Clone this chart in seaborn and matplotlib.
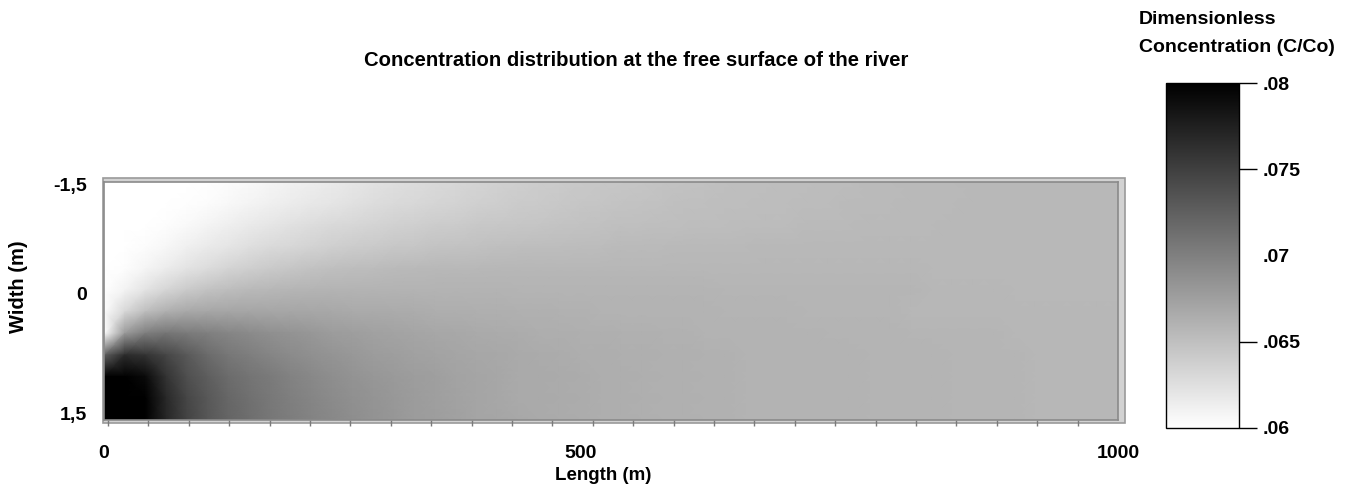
import numpy as np
import pandas as pd
import matplotlib
matplotlib.use("Agg")
import matplotlib.pyplot as plt
import seaborn as sns
from matplotlib.colors import LinearSegmentedColormap
from matplotlib.patches import Rectangle

plt.rcParams['font.family'] = ['Liberation Sans', 'DejaVu Sans']
plt.rcParams['font.weight'] = 'bold'

# ---------------- data (C/Co) ----------------
length_m = [10, 30, 50, 70, 90, 110, 130, 150, 170, 190,
            210, 230, 250, 270, 290, 310, 330, 350, 370, 390,
            410, 430, 450, 470, 490, 510, 530, 550, 570, 590,
            610, 630, 650, 670, 690, 710, 730, 750, 770, 790,
            810, 830, 850, 870, 890, 910, 930, 950, 970, 990]
width_m = [-1.375, -1.125, -0.875, -0.625, -0.375, -0.125,
           0.125, 0.375, 0.625, 0.875, 1.125, 1.375]

c_w_m1375 = [.0600, .0600, .0600, .0600, .0600, .0601, .0603, .0605, .0608, .0611,
             .0614, .0617, .0620, .0623, .0625, .0628, .0630, .0632, .0634, .0636,
             .0638, .0640, .0641, .0643, .0644, .0645, .0646, .0647, .0648, .0649,
             .0650, .0651, .0651, .0652, .0652, .0653, .0653, .0654, .0654, .0655,
             .0655, .0655, .0656, .0656, .0656, .0656, .0656, .0656, .0656, .0656]
c_w_m1125 = [.0600, .0600, .0600, .0600, .0601, .0603, .0606, .0609, .0612, .0615,
             .0618, .0621, .0624, .0627, .0629, .0631, .0633, .0635, .0637, .0639,
             .0641, .0642, .0643, .0645, .0646, .0647, .0648, .0649, .0650, .0650,
             .0651, .0651, .0652, .0652, .0653, .0653, .0654, .0654, .0654, .0655,
             .0655, .0655, .0656, .0656, .0656, .0656, .0656, .0656, .0656, .0656]
c_w_m0875 = [.0600, .0600, .0600, .0602, .0605, .0609, .0613, .0617, .0620, .0624,
             .0627, .0630, .0632, .0634, .0636, .0638, .0640, .0641, .0643, .0644,
             .0645, .0646, .0647, .0648, .0649, .0650, .0650, .0651, .0651, .0652,
             .0652, .0653, .0653, .0653, .0654, .0654, .0654, .0655, .0655, .0655,
             .0655, .0656, .0656, .0656, .0656, .0656, .0656, .0656, .0656, .0656]
c_w_m0625 = [.0600, .0600, .0603, .0607, .0612, .0617, .0621, .0625, .0629, .0632,
             .0635, .0638, .0640, .0642, .0644, .0645, .0647, .0648, .0649, .0650,
             .0651, .0652, .0652, .0653, .0653, .0654, .0654, .0654, .0655, .0655,
             .0655, .0655, .0656, .0656, .0656, .0656, .0656, .0656, .0656, .0656,
             .0656, .0656, .0656, .0656, .0656, .0656, .0656, .0656, .0656, .0656]
c_w_m0375 = [.0600, .0602, .0608, .0615, .0622, .0628, .0634, .0638, .0642, .0645,
             .0648, .0650, .0652, .0653, .0654, .0655, .0656, .0656, .0656, .0657,
             .0657, .0657, .0657, .0657, .0657, .0657, .0657, .0657, .0657, .0657,
             .0657, .0657, .0657, .0657, .0657, .0657, .0657, .0657, .0657, .0657,
             .0656, .0656, .0656, .0656, .0656, .0656, .0656, .0656, .0656, .0656]
c_w_m0125 = [.0600, .0610, .0622, .0633, .0642, .0648, .0652, .0655, .0657, .0658,
             .0659, .0660, .0660, .0660, .0660, .0660, .0660, .0660, .0660, .0660,
             .0659, .0659, .0659, .0659, .0659, .0659, .0659, .0659, .0659, .0659,
             .0658, .0658, .0658, .0658, .0658, .0658, .0658, .0658, .0658, .0658,
             .0657, .0657, .0657, .0657, .0656, .0656, .0656, .0656, .0656, .0656]
c_w_p0125 = [.0603, .0632, .0652, .0663, .0668, .0670, .0671, .0671, .0670, .0670,
             .0669, .0668, .0667, .0667, .0666, .0665, .0664, .0664, .0663, .0663,
             .0662, .0662, .0661, .0661, .0660, .0660, .0660, .0660, .0660, .0660,
             .0659, .0659, .0659, .0659, .0658, .0658, .0658, .0658, .0658, .0657,
             .0657, .0657, .0657, .0657, .0657, .0657, .0657, .0657, .0657, .0657]
c_w_p0375 = [.0602, .0680, .0702, .0708, .0704, .0700, .0696, .0692, .0688, .0685,
             .0682, .0678, .0676, .0674, .0672, .0671, .0669, .0668, .0667, .0666,
             .0665, .0664, .0664, .0663, .0663, .0662, .0662, .0661, .0661, .0660,
             .0660, .0660, .0660, .0660, .0660, .0659, .0659, .0659, .0659, .0658,
             .0658, .0658, .0658, .0658, .0657, .0657, .0657, .0657, .0657, .0657]
c_w_p0625 = [.0725, .0765, .0760, .0745, .0730, .0716, .0707, .0701, .0696, .0691,
             .0687, .0684, .0681, .0678, .0676, .0674, .0672, .0671, .0669, .0668,
             .0667, .0666, .0665, .0664, .0664, .0663, .0663, .0662, .0662, .0661,
             .0661, .0660, .0660, .0660, .0660, .0660, .0660, .0659, .0659, .0659,
             .0659, .0658, .0658, .0658, .0658, .0657, .0657, .0657, .0657, .0657]
c_w_p0875 = [.0812, .0810, .0792, .0760, .0738, .0726, .0715, .0709, .0704, .0698,
             .0693, .0689, .0685, .0682, .0679, .0677, .0675, .0672, .0671, .0669,
             .0667, .0667, .0666, .0665, .0664, .0664, .0663, .0662, .0662, .0661,
             .0661, .0660, .0660, .0660, .0660, .0660, .0660, .0659, .0659, .0659,
             .0659, .0658, .0658, .0658, .0658, .0657, .0657, .0657, .0657, .0657]
c_w_p1125 = [.0815, .0813, .0800, .0768, .0745, .0731, .0719, .0712, .0706, .0700,
             .0696, .0691, .0687, .0684, .0681, .0678, .0675, .0673, .0671, .0669,
             .0667, .0667, .0666, .0665, .0664, .0664, .0663, .0662, .0662, .0661,
             .0661, .0660, .0660, .0660, .0660, .0660, .0660, .0659, .0659, .0659,
             .0659, .0658, .0658, .0658, .0658, .0657, .0657, .0657, .0657, .0657]
c_w_p1375 = [.0815, .0813, .0800, .0770, .0747, .0732, .0721, .0714, .0707, .0702,
             .0697, .0693, .0689, .0685, .0682, .0678, .0676, .0674, .0671, .0670,
             .0668, .0667, .0666, .0665, .0664, .0664, .0663, .0662, .0662, .0661,
             .0661, .0660, .0660, .0660, .0660, .0660, .0660, .0659, .0659, .0659,
             .0659, .0658, .0658, .0658, .0658, .0657, .0657, .0657, .0657, .0657]

x_tick_labels = ["0", "500", "1000"]
y_tick_labels = ["-1,5", "0", "1,5"]
cbar_ticks = [0.06, 0.065, 0.07, 0.075, 0.08]
cbar_tick_labels = [".06", ".065", ".07", ".075", ".08"]

title = "Concentration distribution at the free surface of the river"
cbar_title = ["Dimensionless", "Concentration (C/Co)"]

# ---------------- build table ----------------
rows = [c_w_m1375, c_w_m1125, c_w_m0875, c_w_m0625, c_w_m0375, c_w_m0125,
        c_w_p0125, c_w_p0375, c_w_p0625, c_w_p0875, c_w_p1125, c_w_p1375]
df = pd.DataFrame(rows, index=width_m, columns=length_m)
ncol, nrow = df.shape[1], df.shape[0]

# ---------------- figure ----------------
W, H = 1350, 487
fig = plt.figure(figsize=(W / 100, H / 100), dpi=100)

def fx(px):
    return px / W

def fy(py):
    return 1 - py / H

AX_L, AX_R, AX_T, AX_B = 104, 1118, 182, 420

# outer bevel frame
fig.patches.append(Rectangle((fx(103), fy(423)), fx(1125) - fx(103), fy(178) - fy(423),
                             transform=fig.transFigure, facecolor='#d2d2d2',
                             edgecolor='#9a9a9a', lw=1.2, zorder=-5))

ax = fig.add_axes([fx(AX_L), fy(AX_B), fx(AX_R) - fx(AX_L), fy(AX_T) - fy(AX_B)])
cax = fig.add_axes([fx(1166), fy(428), fx(1239) - fx(1166), fy(83) - fy(428)])

cmap = LinearSegmentedColormap.from_list("wb", ["#ffffff", "#000000"])
sns.heatmap(df, ax=ax, cmap=cmap, vmin=0.06, vmax=0.08, cbar_ax=cax,
            xticklabels=False, yticklabels=False, shading='gouraud')

# with gouraud shading the values sit on the mesh nodes 0..n-1
ax.set_xlim(0, ncol - 1)
ax.set_ylim(nrow - 1, 0)

def xpos(px):
    return (px - AX_L) / (AX_R - AX_L) * (ncol - 1)

def ypos(py):
    return (py - AX_T) / (AX_B - AX_T) * (nrow - 1)

for s in ax.spines.values():
    s.set_visible(True)
    s.set_color('#8a8a8a')
    s.set_linewidth(1.2)

# x axis: small marks, labels 0 / 500 / 1000
ax.set_xticks([xpos(108 + 40.4 * k) for k in range(25)], minor=True)
ax.set_xticks([xpos(104), xpos(581), xpos(1118)])
ax.set_xticklabels(x_tick_labels, fontsize=14, fontweight='bold')
ax.tick_params(axis='x', which='major', length=0, pad=18)
ax.tick_params(axis='x', which='minor', length=4.5, width=1, color='#7a7a7a')

ax.set_yticks([ypos(184), ypos(294), ypos(413.5)])
ax.set_yticklabels(y_tick_labels, fontsize=14, fontweight='bold')
ax.tick_params(axis='y', which='both', length=0, pad=12)

ax.set_xlabel("Length (m)", fontsize=13.5, fontweight='bold')
ax.xaxis.set_label_coords((603 - AX_L) / (AX_R - AX_L), (AX_B - 475) / (AX_B - AX_T))
ax.xaxis.label.set_va('center')
ax.set_ylabel("Width (m)", fontsize=14.5, fontweight='bold')
ax.yaxis.set_label_coords((18 - AX_L) / (AX_R - AX_L), (AX_B - 287) / (AX_B - AX_T))
ax.yaxis.label.set_va('center')

fig.text(fx(636), fy(60), title, ha='center', va='center', fontsize=14.6, fontweight='bold')
fig.text(fx(1139), fy(20), cbar_title[0], ha='left', va='center', fontsize=14, fontweight='bold')
fig.text(fx(1139), fy(47), cbar_title[1], ha='left', va='center', fontsize=14, fontweight='bold')

# colorbar
cbar = ax.collections[0].colorbar
cbar.set_ticks(cbar_ticks)
cbar.set_ticklabels(cbar_tick_labels)
cbar.outline.set_visible(True)
cbar.outline.set_edgecolor('black')
cbar.outline.set_linewidth(1)
cax.tick_params(length=13, width=1, color='black', pad=4, labelsize=14)
for lab in cax.get_yticklabels():
    lab.set_fontweight('bold')
cax.yaxis.get_major_ticks()[2].tick2line.set_visible(False)
cax.yaxis.get_major_ticks()[2].tick1line.set_visible(False)

fig.savefig("out.png", dpi=100)
